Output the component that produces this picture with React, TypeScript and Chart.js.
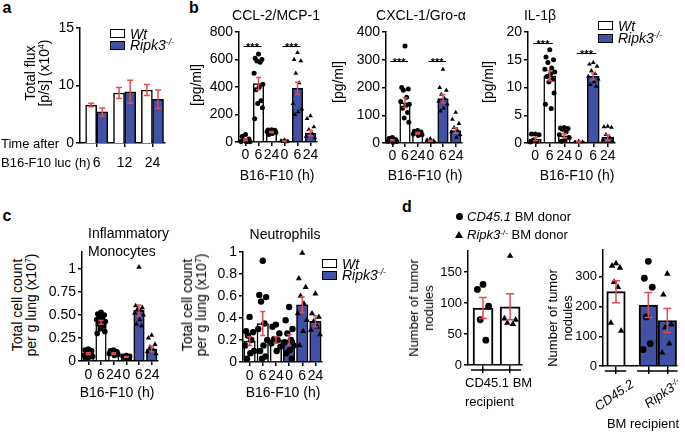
import React, { useEffect, useRef } from 'react';
import { Chart, registerables } from 'chart.js';
Chart.register(...registerables);

const FONT = "'Liberation Sans', Arial, Helvetica, sans-serif";
const BLUE = '#4152A6';
const RED = '#E14C55';
const WHITE = '#ffffff';

// ---------- Panel a ----------
const A_TIMES = ['6', '12', '24'];
const A_WT = [8.3, 9.35, 9.6];
const A_WT_SEM = [0.15, 0.48, 0.48];
const A_KO = [7.7, 9.45, 8.8];
const A_KO_SEM = [0.35, 1.0, 0.8];
const A_Y_TICKS = [5, 10, 15];
const A_Y_LABELS = ['0', '10', '15'];

// ---------- Panel b ----------
const B_CATS = ['0', '6', '24', '0', '6', '24'];

const CCL_WT = [15, 425, 72];
const CCL_WT_SEM = [6, 45, 5];
const CCL_KO = [5, 390, 65];
const CCL_KO_SEM = [2, 45, 20];
const CCL_WT_0 = [55, 40, 22, 12, 6, 4, 2, 1];
const CCL_WT_6 = [640, 610, 600, 590, 580, 500, 420, 400, 380, 300, 280, 250, 170];
const CCL_WT_24 = [90, 88, 85, 82, 78, 75, 70, 62, 55];
const CCL_KO_0 = [15, 10, 6, 3, 1];
const CCL_KO_6 = [650, 600, 590, 500, 430, 280, 240, 220, 200];
const CCL_KO_24 = [190, 170, 110, 90, 60, 40, 30];
const CCL_Y_TICKS = [0, 200, 400, 600, 800];

const CXCL_WT = [10, 145, 35];
const CXCL_WT_SEM = [2, 18, 3];
const CXCL_KO = [8, 160, 45];
const CXCL_KO_SEM = [2, 15, 10];
const CXCL_WT_0 = [20, 16, 13, 10, 8, 6, 5, 3];
const CXCL_WT_6 = [350, 200, 195, 190, 165, 150, 140, 135, 125, 110, 90, 75];
const CXCL_WT_24 = [45, 42, 40, 38, 35, 32, 30, 27];
const CXCL_KO_0 = [15, 11, 8, 5, 3];
const CXCL_KO_6 = [265, 200, 190, 175, 160, 150, 140, 125, 115];
const CXCL_KO_24 = [110, 85, 70, 55, 45, 40, 30, 20];
const CXCL_Y_TICKS = [0, 100, 200, 300, 400];

const IL_WT = [0.7, 12.1, 1.3];
const IL_WT_SEM = [0.3, 0.9, 0.4];
const IL_KO = [0.25, 12, 1];
const IL_KO_SEM = [0.05, 0.6, 0.5];
const IL_WT_0 = [1.6, 1.6, 1.5, 0.5, 0.3, 0.2];
const IL_WT_6 = [16.8, 15.5, 15, 14.5, 13.5, 13.3, 12.8, 12.5, 12, 11.5, 11, 9, 7, 6.2];
const IL_WT_24 = [2.8, 2.7, 2.6, 2.5, 2, 1.5, 1, 0.5, 0.3];
const IL_KO_0 = [0.3, 0.2, 0.2];
const IL_KO_6 = [14.5, 14.2, 13.8, 13, 12.5, 12, 11.5, 11, 10.5, 10.2];
const IL_KO_24 = [3, 2.9, 2.8, 1.5, 1, 0.5, 0.3];
const IL_Y_TICKS = [0, 5, 10, 15, 20];

// ---------- Panel c ----------
const MONO_WT = [0.08, 0.42, 0.08];
const MONO_WT_SEM = [0.01, 0.02, 0.01];
const MONO_KO = [0.045, 0.55, 0.13];
const MONO_KO_SEM = [0.005, 0.06, 0.03];
const MONO_WT_0 = [0.13, 0.12, 0.11, 0.1, 0.08, 0.06, 0.05, 0.04, 0.03];
const MONO_WT_6 = [0.53, 0.51, 0.5, 0.48, 0.46, 0.45, 0.43, 0.42, 0.4, 0.38, 0.35, 0.32, 0.3];
const MONO_WT_24 = [0.12, 0.11, 0.1, 0.09, 0.08, 0.08, 0.07, 0.06];
const MONO_KO_0 = [0.06, 0.05, 0.05, 0.04, 0.03];
const MONO_KO_6 = [1.02, 0.6, 0.58, 0.56, 0.55, 0.52, 0.5, 0.45, 0.4, 0.38];
const MONO_KO_24 = [0.28, 0.25, 0.18, 0.15, 0.12, 0.1, 0.08];
const MONO_Y_TICKS = [0, 0.25, 0.5, 0.75, 1];
const MONO_Y_LABELS = ['0', '0.25', '0.50', '0.75', '1'];

const NEUT_WT = [0.19, 0.35, 0.2];
const NEUT_WT_SEM = [0.04, 0.11, 0.03];
const NEUT_KO = [0.2, 0.52, 0.37];
const NEUT_KO_SEM = [0.05, 0.07, 0.05];
const NEUT_WT_0 = [0.41, 0.28, 0.27, 0.24, 0.2, 0.15, 0.1, 0.08, 0.03];
const NEUT_WT_6 = [0.92, 0.61, 0.59, 0.55, 0.35, 0.3, 0.2, 0.15, 0.1, 0.05, 0.03];
const NEUT_WT_24 = [0.34, 0.32, 0.26, 0.21, 0.2, 0.17, 0.14, 0.1];
const NEUT_KO_0 = [0.5, 0.38, 0.3, 0.26, 0.2, 0.18, 0.15, 0.11, 0.08, 0.03];
const NEUT_KO_6 = [0.99, 0.76, 0.68, 0.6, 0.53, 0.44, 0.38, 0.28, 0.15];
const NEUT_KO_24 = [0.62, 0.44, 0.41, 0.37, 0.32, 0.29, 0.25];
const NEUT_Y_TICKS = [0, 0.2, 0.4, 0.6, 0.8, 1];
const NEUT_Y_LABELS = ['0', '0.2', '0.4', '0.6', '0.8', '1'];

// ---------- Panel d ----------
const D1_MEANS = [92, 94];
const D1_SEM = [17, 21];
const D1_CD451_DONOR = [130, 122, 95, 73, 40];
const D1_KO_DONOR = [176, 75, 73, 68, 66];
const D1_Y_TICKS = [0, 50, 100, 150];

const D2_MEANS = [250, 205, 153];
const D2_SEM = [37, 42, 40];
const D2_CD452_KO_DONOR = [345, 337, 330, 282, 265, 145, 118];
const D2_KO_CD451_DONOR = [352, 295, 265, 165, 75, 55];
const D2_KO_KO_DONOR = [310, 240, 140, 130, 75, 45];
const D2_Y_TICKS = [0, 100, 200, 300];

// ---------- helpers ----------
const JIT = [0, -0.26, 0.26, -0.13, 0.13, -0.34, 0.34, 0.06, -0.2, 0.2, -0.06, 0.3, -0.3, 0.1];
const jx = (c: number, vals: number[], amp = 1) => vals.map((_, k) => c + JIT[k % JIT.length] * amp);

type BarSet = { xs: number[]; ys: number[]; errs: number[]; color: string };
type PtSet = { xs: number[]; ys: number[]; shape: string };
type Spec = {
  L: number; T: number; R: number; B: number; yw: number; xh: number;
  yMin: number; yMax: number; yTicks: number[]; yLabels: string[];
  xMin: number; xMax: number; xTicks: number[]; xLabels: string[]; xPad: number; xTickLen: number;
  barW: number; barBorder: number; ptR: number; cap: number; fontSize: number;
  bars: BarSet[]; pts: PtSet[];
  sig?: { a: number; b: number; y: number }[];
  brackets?: { a: number; b: number }[];
};

const PT = 12, PR = 12, PB = 2;

function PanelChart({ spec }: { spec: Spec }) {
  const ref = useRef<HTMLCanvasElement>(null);
  const left = spec.L - spec.yw;
  const top = spec.T - PT;
  const w = spec.R + PR - left;
  const h = spec.B + spec.xh + PB - top;
  useEffect(() => {
    const datasets: any[] = [];
    spec.bars.forEach((b) =>
      datasets.push({
        type: 'bar',
        data: b.xs.map((x, i) => ({ x, y: b.ys[i] })),
        backgroundColor: b.color,
        borderColor: '#000',
        borderWidth: spec.barBorder,
        barThickness: spec.barW,
        grouped: false,
        order: 3,
      })
    );
    spec.pts.forEach((p) =>
      datasets.push({
        type: 'scatter',
        data: p.xs.map((x, i) => ({ x, y: p.ys[i] })),
        pointStyle: p.shape,
        pointRadius: p.shape === 'triangle' ? spec.ptR * 1.1 : spec.ptR,
        backgroundColor: '#000',
        borderColor: '#000',
        borderWidth: 0,
        clip: false,
        order: 2,
      })
    );
    const extras = {
      id: 'extras',
      afterDatasetsDraw(chart: any) {
        const ctx = chart.ctx;
        const xs = chart.scales.x;
        const ys = chart.scales.y;
        ctx.save();
        ctx.strokeStyle = RED;
        ctx.lineWidth = 1.5;
        spec.bars.forEach((b) =>
          b.xs.forEach((x, i) => {
            const e = b.errs[i];
            if (!e) return;
            const px = xs.getPixelForValue(x);
            const p1 = ys.getPixelForValue(b.ys[i] - e);
            const p2 = ys.getPixelForValue(b.ys[i] + e);
            ctx.beginPath();
            ctx.moveTo(px, p1);
            ctx.lineTo(px, p2);
            ctx.moveTo(px - spec.cap, p1);
            ctx.lineTo(px + spec.cap, p1);
            ctx.moveTo(px - spec.cap, p2);
            ctx.lineTo(px + spec.cap, p2);
            ctx.stroke();
          })
        );
        ctx.strokeStyle = '#000';
        ctx.fillStyle = '#000';
        ctx.lineWidth = 1;
        (spec.sig || []).forEach((s) => {
          const a = xs.getPixelForValue(s.a) - 2;
          const bb = xs.getPixelForValue(s.b) + 3;
          const py = Math.round(ys.getPixelForValue(s.y)) + 0.5;
          ctx.beginPath();
          ctx.moveTo(a, py);
          ctx.lineTo(bb, py);
          ctx.stroke();
          ctx.font = `bold 11px ${FONT}`;
          ctx.textAlign = 'center';
          ctx.textBaseline = 'alphabetic';
          ctx.fillText('***', (a + bb) / 2, py + 4);
        });
        ctx.lineWidth = 1.5;
        (spec.brackets || []).forEach((br) => {
          const a = xs.getPixelForValue(br.a) - spec.barW / 2 - 2;
          const bb = xs.getPixelForValue(br.b) + spec.barW / 2 + 1;
          const py = chart.chartArea.bottom + 5;
          ctx.beginPath();
          ctx.moveTo(a, py);
          ctx.lineTo(bb, py);
          ctx.stroke();
        });
        ctx.restore();
      },
    };
    const font = { family: FONT, size: spec.fontSize };
    const chart = new Chart(ref.current as HTMLCanvasElement, {
      type: 'bar',
      data: { datasets },
      options: {
        animation: false,
        responsive: false,
        devicePixelRatio: 1,
        events: [],
        layout: { padding: { top: PT, right: PR, bottom: PB, left: 0 } },
        plugins: { legend: { display: false }, tooltip: { enabled: false } },
        scales: {
          x: {
            type: 'linear',
            min: spec.xMin,
            max: spec.xMax,
            offset: false,
            afterBuildTicks: (s: any) => {
              s.ticks = spec.xTicks.map((v) => ({ value: v }));
            },
            afterFit: (s: any) => {
              s.height = spec.xh;
            },
            ticks: {
              autoSkip: false,
              maxRotation: 0,
              minRotation: 0,
              padding: spec.xPad,
              font,
              color: '#000',
              callback: (_v: any, i: number) => spec.xLabels[i] ?? '',
            },
            grid: { drawOnChartArea: false, drawTicks: true, tickLength: spec.xTickLen, color: '#000', lineWidth: 1.5, offset: false },
            border: { display: true, color: '#000', width: 1.5 },
          },
          y: {
            type: 'linear',
            min: spec.yMin,
            max: spec.yMax,
            afterBuildTicks: (s: any) => {
              s.ticks = spec.yTicks.map((v) => ({ value: v }));
            },
            afterFit: (s: any) => {
              s.width = spec.yw;
            },
            ticks: {
              padding: 2,
              font,
              color: '#000',
              callback: (_v: any, i: number) => spec.yLabels[i] ?? '',
            },
            grid: { drawOnChartArea: false, drawTicks: true, tickLength: 4, color: '#000', lineWidth: 1.5 },
            border: { display: true, color: '#000', width: 1.5 },
          },
        },
      } as any,
      plugins: [extras],
    });
    return () => chart.destroy();
  }, []);
  return <canvas ref={ref} width={w} height={h} style={{ position: 'absolute', left, top, width: w, height: h, display: 'block' }} />;
}

function Txt(props: { x: number; y: number; ax?: string; size?: number; italic?: boolean; bold?: boolean; rot?: number; lh?: number; children: any }) {
  const { x, y, ax = 'c', size = 13, italic, bold, rot = 0, lh, children } = props;
  const tx = ax === 'l' ? '0' : ax === 'r' ? '-100%' : '-50%';
  return (
    <div
      style={{
        position: 'absolute', left: x, top: y,
        transform: `translate(${tx}, -50%) rotate(${rot}deg)`,
        fontSize: size, fontStyle: italic ? 'italic' : 'normal', fontWeight: bold ? 'bold' : 'normal',
        whiteSpace: 'nowrap', lineHeight: lh ? `${lh}px` : `${size + 2}px`, textAlign: 'center', color: '#000',
      }}
    >
      {children}
    </div>
  );
}

const Sup = ({ children }: { children: any }) => (
  <span style={{ fontSize: '0.62em', position: 'relative', top: '-0.55em' }}>{children}</span>
);

function Box({ x, y, w = 15, h = 9, fill }: { x: number; y: number; w?: number; h?: number; fill: string }) {
  return <div style={{ position: 'absolute', left: x, top: y, width: w, height: h, background: fill, border: '1.5px solid #000', boxSizing: 'border-box' }} />;
}

function Legend({ x, y, gap }: { x: number; y: number; gap: number }) {
  return (
    <>
      <Box x={x} y={y} fill={WHITE} />
      <Box x={x} y={y + gap} fill={BLUE} />
      <Txt x={x + 20} y={y + 4.5} ax="l" size={14} italic>Wt</Txt>
      <Txt x={x + 20} y={y + gap + 4.5} ax="l" size={14} italic>Ripk3<Sup>-/-</Sup></Txt>
    </>
  );
}

function groupPts(wt: number[][], ko: number[][], koShapes: string[], amp = 1): PtSet[] {
  const out: PtSet[] = [];
  wt.forEach((v, i) => out.push({ xs: jx(i, v, amp), ys: v, shape: 'circle' }));
  ko.forEach((v, i) => out.push({ xs: jx(i + 3, v, amp), ys: v, shape: koShapes[i] }));
  return out;
}

function sixSpec(box: { L: number; T: number; R: number; B: number }, yMax: number, yTicks: number[], yLabels: string[],
  wt: number[], wtE: number[], ko: number[], koE: number[], pts: PtSet[], barW: number, ptR: number, xPad: number, sig?: any[]): Spec {
  return {
    ...box, yw: 42, xh: 24,
    yMin: 0, yMax, yTicks, yLabels,
    xMin: -0.5, xMax: 5.5, xTicks: [0, 1, 2, 3, 4, 5], xLabels: B_CATS, xPad, xTickLen: 4,
    barW, barBorder: 1.5, ptR, cap: 2.5, fontSize: 14,
    bars: [
      { xs: [0, 1, 2], ys: wt, errs: wtE, color: WHITE },
      { xs: [3, 4, 5], ys: ko, errs: koE, color: BLUE },
    ],
    pts, sig,
  };
}

const specA: Spec = {
  L: 80, T: 28, R: 165, B: 143, yw: 40, xh: 30,
  yMin: 5, yMax: 15, yTicks: A_Y_TICKS, yLabels: A_Y_LABELS,
  xMin: -0.6, xMax: 2.45, xTicks: [0, 1, 2], xLabels: A_TIMES, xPad: 8, xTickLen: 4,
  barW: 11, barBorder: 1.5, ptR: 2.5, cap: 3, fontSize: 14,
  bars: [
    { xs: [-0.2, 0.8, 1.8], ys: A_WT, errs: A_WT_SEM, color: WHITE },
    { xs: [0.2, 1.2, 2.2], ys: A_KO, errs: A_KO_SEM, color: BLUE },
  ],
  pts: [],
};

const specCCL = sixSpec({ L: 239, T: 32, R: 317, B: 142 }, 800, CCL_Y_TICKS, CCL_Y_TICKS.map(String),
  CCL_WT, CCL_WT_SEM, CCL_KO, CCL_KO_SEM,
  groupPts([CCL_WT_0, CCL_WT_6, CCL_WT_24], [CCL_KO_0, CCL_KO_6, CCL_KO_24], ['triangle', 'triangle', 'triangle']),
  10.5, 2.5, 1, [{ a: 0, b: 1, y: 700 }, { a: 3, b: 4, y: 700 }]);

const specCXCL = sixSpec({ L: 386, T: 32, R: 462, B: 143 }, 400, CXCL_Y_TICKS, CXCL_Y_TICKS.map(String),
  CXCL_WT, CXCL_WT_SEM, CXCL_KO, CXCL_KO_SEM,
  groupPts([CXCL_WT_0, CXCL_WT_6, CXCL_WT_24], [CXCL_KO_0, CXCL_KO_6, CXCL_KO_24], ['triangle', 'triangle', 'triangle']),
  10.5, 2.5, 1, [{ a: 0, b: 1, y: 295 }, { a: 3, b: 4, y: 295 }]);

const specIL = sixSpec({ L: 528, T: 32, R: 615, B: 143 }, 20, IL_Y_TICKS, IL_Y_TICKS.map(String),
  IL_WT, IL_WT_SEM, IL_KO, IL_KO_SEM,
  groupPts([IL_WT_0, IL_WT_6, IL_WT_24], [IL_KO_0, IL_KO_6, IL_KO_24], ['triangle', 'triangle', 'triangle']),
  12, 2.5, 1, [{ a: 0, b: 1, y: 18 }, { a: 3, b: 4, y: 16.2 }]);

const specMono = sixSpec({ L: 82, T: 252, R: 158, B: 361 }, 1.185, MONO_Y_TICKS, MONO_Y_LABELS,
  MONO_WT, MONO_WT_SEM, MONO_KO, MONO_KO_SEM,
  groupPts([MONO_WT_0, MONO_WT_6, MONO_WT_24], [MONO_KO_0, MONO_KO_6, MONO_KO_24], ['circle', 'triangle', 'triangle']),
  10.5, 2.8, 2);

const specNeut = sixSpec({ L: 243, T: 252, R: 322, B: 362 }, 1, NEUT_Y_TICKS, NEUT_Y_LABELS,
  NEUT_WT, NEUT_WT_SEM, NEUT_KO, NEUT_KO_SEM,
  groupPts([NEUT_WT_0, NEUT_WT_6, NEUT_WT_24], [NEUT_KO_0, NEUT_KO_6, NEUT_KO_24], ['circle', 'triangle', 'triangle']),
  11.5, 3.2, 2);

const specD1: Spec = {
  L: 468, T: 251, R: 522, B: 365, yw: 40, xh: 12,
  yMin: 0, yMax: 184, yTicks: D1_Y_TICKS, yLabels: D1_Y_TICKS.map(String),
  xMin: -0.555, xMax: 1.44, xTicks: [0, 1], xLabels: ['', ''], xPad: 0, xTickLen: 8,
  barW: 20, barBorder: 2, ptR: 3.4, cap: 4, fontSize: 13,
  bars: [{ xs: [0, 1], ys: D1_MEANS, errs: D1_SEM, color: WHITE }],
  pts: [
    { xs: jx(0, D1_CD451_DONOR, 0.8), ys: D1_CD451_DONOR, shape: 'circle' },
    { xs: jx(1, D1_KO_DONOR, 0.8), ys: D1_KO_DONOR, shape: 'triangle' },
  ],
  brackets: [{ a: 0, b: 1 }],
};

const specD2: Spec = {
  L: 603, T: 250, R: 677, B: 366, yw: 40, xh: 12,
  yMin: 0, yMax: 390, yTicks: D2_Y_TICKS, yLabels: D2_Y_TICKS.map(String),
  xMin: -0.684, xMax: 3.21, xTicks: [0, 1.7, 2.7], xLabels: ['', '', ''], xPad: 0, xTickLen: 8,
  barW: 18.5, barBorder: 2, ptR: 3.4, cap: 4, fontSize: 13,
  bars: [
    { xs: [0], ys: [D2_MEANS[0]], errs: [D2_SEM[0]], color: WHITE },
    { xs: [1.7, 2.7], ys: [D2_MEANS[1], D2_MEANS[2]], errs: [D2_SEM[1], D2_SEM[2]], color: BLUE },
  ],
  pts: [
    { xs: jx(0, D2_CD452_KO_DONOR, 0.8), ys: D2_CD452_KO_DONOR, shape: 'triangle' },
    { xs: jx(1.7, D2_KO_CD451_DONOR, 0.8), ys: D2_KO_CD451_DONOR, shape: 'circle' },
    { xs: jx(2.7, D2_KO_KO_DONOR, 0.8), ys: D2_KO_KO_DONOR, shape: 'triangle' },
  ],
  brackets: [{ a: 0, b: 0 }, { a: 1.7, b: 2.7 }],
};

export default function App() {
  return (
    <div style={{ position: 'absolute', left: 0, top: 0, width: 685, height: 432, background: '#fff', overflow: 'hidden', fontFamily: FONT, color: '#000' }}>
      <PanelChart spec={specA} />
      <PanelChart spec={specCCL} />
      <PanelChart spec={specCXCL} />
      <PanelChart spec={specIL} />
      <PanelChart spec={specMono} />
      <PanelChart spec={specNeut} />
      <PanelChart spec={specD1} />
      <PanelChart spec={specD2} />

      {/* panel letters */}
      <Txt x={7} y={8} size={16} bold>a</Txt>
      <Txt x={194} y={8} size={16} bold>b</Txt>
      <Txt x={7} y={216} size={16} bold>c</Txt>
      <Txt x={407} y={207} size={16} bold>d</Txt>

      {/* panel a */}
      <Txt x={38} y={73} rot={-90} lh={14} size={14}>Total flux<br />[p/s] (x10<Sup>4</Sup>)</Txt>
      <Txt x={1} y={143} ax="l">Time after</Txt>
      <Txt x={1} y={162} ax="l">B16-F10 luc (h)</Txt>
      <Legend x={110} y={29} gap={12} />

      {/* panel b */}
      <Txt x={276} y={15} size={14}>CCL-2/MCP-1</Txt>
      <Txt x={421} y={15} size={14}>CXCL-1/Gro-α</Txt>
      <Txt x={540} y={15} size={14}>IL-1β</Txt>
      <Txt x={196} y={85} rot={-90} size={14}>[pg/ml]</Txt>
      <Txt x={338} y={82} rot={-90} size={14}>[pg/ml]</Txt>
      <Txt x={488} y={82} rot={-90} size={14}>[pg/ml]</Txt>
      <Txt x={277} y={175} size={14}>B16-F10 (h)</Txt>
      <Txt x={425} y={175} size={14}>B16-F10 (h)</Txt>
      <Txt x={577} y={175} size={14}>B16-F10 (h)</Txt>
      <Legend x={598} y={21} gap={13} />

      {/* panel c */}
      <Txt x={88} y={233} ax="l" size={14}>Inflammatory</Txt>
      <Txt x={88} y={251} ax="l" size={14}>Monocytes</Txt>
      <Txt x={285} y={234} size={14}>Neutrophils</Txt>
      <Txt x={25} y={305} rot={-90} lh={14} size={14}>Total cell count<br />per g lung (x10<Sup>7</Sup>)</Txt>
      <Txt x={195} y={305} rot={-90} lh={14} size={14}>Total cell count<br />per g lung (x10<Sup>7</Sup>)</Txt>
      <Txt x={117} y={392} size={14}>B16-F10 (h)</Txt>
      <Txt x={283} y={392} size={14}>B16-F10 (h)</Txt>
      <Legend x={322} y={259} gap={12} />

      {/* panel d */}
      <div style={{ position: 'absolute', left: 455.5, top: 213, width: 7, height: 7, borderRadius: '50%', background: '#000' }} />
      <div style={{ position: 'absolute', left: 455, top: 231, width: 0, height: 0, borderLeft: '4px solid transparent', borderRight: '4px solid transparent', borderBottom: '7px solid #000' }} />
      <Txt x={467} y={216} ax="l"><i>CD45.1</i> BM donor</Txt>
      <Txt x={467} y={235} ax="l"><i>Ripk3</i><Sup>-/-</Sup> BM donor</Txt>
      <Txt x={421} y={308} rot={-90} lh={15}>Number of tumor<br />nodules</Txt>
      <Txt x={560} y={318} rot={-90} lh={15}>Number of tumor<br />nodules</Txt>
      <Txt x={465} y={382} ax="l">CD45.1 BM</Txt>
      <Txt x={465} y={401} ax="l">recipient</Txt>
      <Txt x={614} y={395} rot={-35} italic>CD45.2</Txt>
      <Txt x={663} y={394} rot={-35} italic>Ripk3<Sup>-/-</Sup></Txt>
      <Txt x={643} y={423}>BM recipient</Txt>
    </div>
  );
}
